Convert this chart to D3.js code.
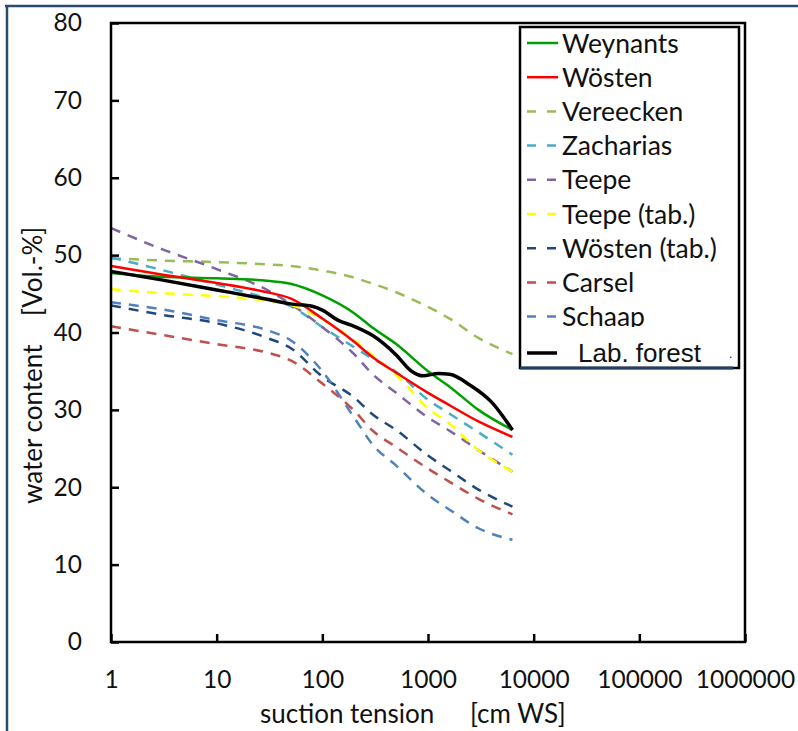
<!DOCTYPE html>
<html>
<head>
<meta charset="utf-8">
<script src="https://cdn.jsdelivr.net/npm/d3@7"></script>
<style>
  body { margin: 0; background: #fff; }
  svg { display: block; }
  text { font-family: Lato, "Liberation Sans", sans-serif; fill: #111; }
</style>
</head>
<body>
<div id="chart"></div>
<script>
// suction tension [cm WS] shared by the model curves
const suction = [1, 3, 10, 30, 50, 100, 200, 300, 500, 1000, 1600, 3000, 6300];

const weynants   = [47.7, 47.2, 47.0, 46.7, 46.3, 44.8, 42.5, 40.6, 38.5, 35.0, 33.0, 30.0, 27.4];
const woesten    = [48.6, 47.5, 46.4, 45.2, 44.4, 41.8, 38.8, 36.8, 34.8, 32.2, 30.6, 28.5, 26.5];
const vereecken  = [49.6, 49.3, 49.1, 48.8, 48.6, 48.0, 47.1, 46.3, 45.2, 43.3, 41.8, 39.3, 37.2];
const zacharias  = [49.7, 48.1, 46.2, 44.4, 43.4, 40.7, 38.1, 36.6, 34.9, 31.3, 29.5, 27.1, 24.2];
const teepe      = [53.5, 50.8, 48.2, 45.5, 43.7, 40.7, 37.2, 34.6, 32.2, 29.0, 27.3, 24.8, 22.0];
const teepeTab   = [45.6, 45.1, 44.7, 44.1, 43.6, 41.7, 39.0, 37.0, 34.5, 30.2, 28.2, 24.8, 22.0];
const woestenTab = [43.5, 42.3, 41.2, 39.3, 38.0, 34.3, 31.6, 29.4, 27.4, 24.1, 22.2, 19.7, 17.5];
const carsel     = [40.8, 39.7, 38.5, 37.4, 36.4, 33.4, 29.9, 27.3, 25.2, 22.4, 20.7, 18.5, 16.5];
const schaap     = [43.9, 43.0, 41.6, 40.3, 39.0, 35.0, 29.0, 25.5, 22.8, 19.0, 17.1, 14.7, 13.2];

// measured curve (lab, forest)
const labSuction = [1, 3, 10, 30, 50, 80, 100, 140, 200, 300, 500, 700, 900, 1250, 1600, 2500, 4000, 6300];
const labForest  = [47.9, 46.8, 45.5, 44.3, 43.7, 43.4, 42.9, 41.6, 40.8, 39.6, 37.1, 35.0, 34.4, 34.7, 34.6, 33.2, 31.0, 27.4];

const xTicks = [1, 10, 100, 1000, 10000, 100000, 1000000];
const yTicks = [0, 10, 20, 30, 40, 50, 60, 70, 80];

const series = [
  {name: "Vereecken",     xs: suction, ys: vereecken,  color: "#9bbb59", dash: true},
  {name: "Zacharias",     xs: suction, ys: zacharias,  color: "#4bacc6", dash: true},
  {name: "Teepe",         xs: suction, ys: teepe,      color: "#8064a2", dash: true},
  {name: "Wösten (tab.)", xs: suction, ys: woestenTab, color: "#1f497d", dash: true},
  {name: "Carsel",        xs: suction, ys: carsel,     color: "#c0504d", dash: true},
  {name: "Schaap",        xs: suction, ys: schaap,     color: "#4f81bd", dash: true},
  {name: "Teepe (tab.)",  xs: suction, ys: teepeTab,   color: "#ffff00", dash: true},
  {name: "Weynants",      xs: suction, ys: weynants,   color: "#00a000", dash: false},
  {name: "Wösten",        xs: suction, ys: woesten,    color: "#ff0000", dash: false},
  {name: "Lab. forest",   xs: labSuction, ys: labForest, color: "#000000", dash: false}
];
const legendOrder = ["Weynants", "Wösten", "Vereecken", "Zacharias", "Teepe",
                     "Teepe (tab.)", "Wösten (tab.)", "Carsel", "Schaap"];

const width = 798, height = 731;
const plotL = 111, plotR = 745, plotT = 23, plotB = 642;

const svg = d3.select("#chart").append("svg")
    .attr("width", width).attr("height", height);

// outer frame (top + left edge only)
svg.append("line").attr("x1", 5).attr("x2", 798).attr("y1", 6).attr("y2", 6)
   .attr("stroke", "#2a4a6b").attr("stroke-width", 2.5);
svg.append("line").attr("x1", 7).attr("x2", 7).attr("y1", 5).attr("y2", 731)
   .attr("stroke", "#2a4a6b").attr("stroke-width", 2.5);

const x = d3.scaleLog().domain([1, 1000000]).range([plotL, plotR]);
const y = d3.scaleLinear().domain([0, 80]).range([plotB, plotT]);

const line = d3.line()
    .x(d => x(d[0]))
    .y(d => y(d[1]))
    .curve(d3.curveMonotoneX);

const g = svg.append("g");

series.forEach(s => {
  const pts = s.xs.map((v, i) => [v, s.ys[i]]);
  g.append("path")
   .attr("d", line(pts))
   .attr("fill", "none")
   .attr("stroke", s.color)
   .attr("stroke-width", s.name === "Lab. forest" ? 3.5 : 2.5)
   .attr("stroke-dasharray", s.dash ? "10,8" : null);
});

// plot box
svg.append("rect")
   .attr("x", plotL).attr("y", plotT)
   .attr("width", plotR - plotL).attr("height", plotB - plotT)
   .attr("fill", "none").attr("stroke", "#000").attr("stroke-width", 2.5);

const yAxis = svg.append("g")
   .attr("transform", `translate(${plotL},0)`)
   .call(d3.axisLeft(y).tickValues(yTicks).tickSizeInner(-8).tickSizeOuter(0).tickPadding(29));
const xAxis = svg.append("g")
   .attr("transform", `translate(0,${plotB})`)
   .call(d3.axisBottom(x).tickValues(xTicks).tickFormat(d3.format("d"))
          .tickSizeInner(-8).tickSizeOuter(0).tickPadding(29));

[yAxis, xAxis].forEach(a => {
  a.select(".domain").remove();
  a.selectAll(".tick line").attr("stroke", "#000").attr("stroke-width", 2.5);
  a.selectAll(".tick text").style("font-family", "Lato").style("font-size", "24.5px").attr("fill", "#111");
});

// axis titles
svg.append("text")
   .attr("x", 260).attr("y", 723)
   .style("font-size", "26px")
   .text("suction tension");
svg.append("text")
   .attr("x", 470).attr("y", 723)
   .style("font-size", "26px")
   .text("[cm WS]");

svg.append("text")
   .attr("transform", "translate(42,504) rotate(-90)")
   .style("font-size", "26px")
   .text("water content");
svg.append("text")
   .attr("transform", "translate(42,316) rotate(-90)")
   .style("font-size", "26px")
   .text("[Vol.-%]");

// legend
const lg = svg.append("g");
lg.append("rect")
  .attr("x", 520).attr("y", 27).attr("width", 219).attr("height", 341)
  .attr("fill", "#fff").attr("stroke", "#000").attr("stroke-width", 2.5);

legendOrder.forEach((name, i) => {
  const s = series.find(d => d.name === name);
  const ly = 43 + i * 34.2;
  lg.append("line")
    .attr("x1", 527).attr("x2", 558).attr("y1", ly).attr("y2", ly)
    .attr("stroke", s.color).attr("stroke-width", 2.5)
    .attr("stroke-dasharray", s.dash ? "9,11" : null);
  lg.append("text")
    .attr("x", 562).attr("y", ly)
    .attr("dy", "0.36em")
    .style("font-size", "26.5px")
    .text(name);
});

// last row sits on a white patch that cuts the row above
lg.append("rect").attr("x", 522).attr("y", 327).attr("width", 211).attr("height", 39).attr("fill", "#fff");
lg.append("line")
  .attr("x1", 527).attr("x2", 557).attr("y1", 353).attr("y2", 353)
  .attr("stroke", "#000").attr("stroke-width", 3.5);
lg.append("text")
  .attr("x", 578).attr("y", 353).attr("dy", "0.36em")
  .style("font-family", "Liberation Sans, Arial, sans-serif").style("font-size", "26px")
  .text("Lab. forest");
lg.append("text")
  .attr("x", 729).attr("y", 358)
  .style("font-family", "Liberation Sans, Arial, sans-serif").style("font-size", "12px")
  .text(".");
lg.append("line")
  .attr("x1", 520).attr("x2", 733).attr("y1", 368).attr("y2", 368)
  .attr("stroke", "#1f3f66").attr("stroke-width", 3);
</script>
</body>
</html>
